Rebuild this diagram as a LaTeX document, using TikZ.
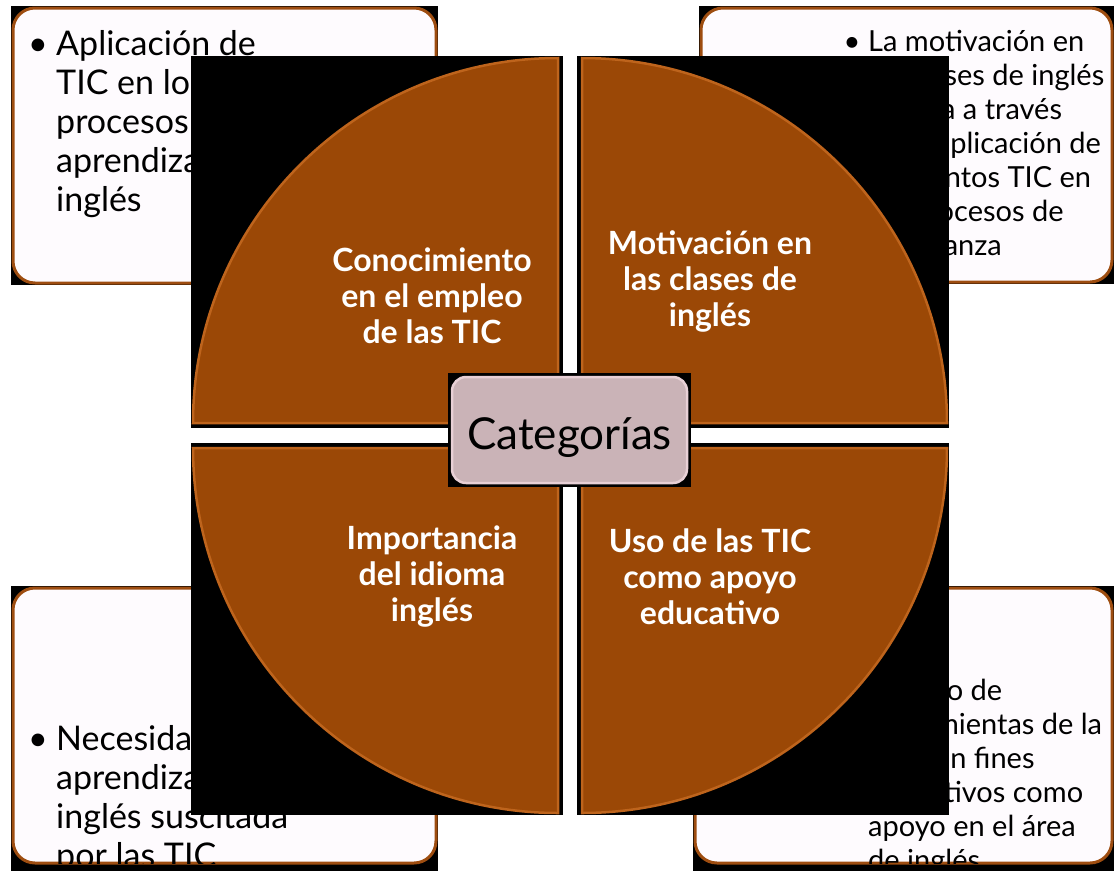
\documentclass[tikz,border=0pt]{standalone}
\usepackage{fontspec}
\setmainfont{Lato}

\definecolor{pie}{RGB}{155,72,6}
\definecolor{pierim}{RGB}{190,100,28}
\definecolor{boxline}{RGB}{158,77,16}
\definecolor{boxfill}{RGB}{254,251,254}
\definecolor{catfill}{RGB}{202,179,183}
\definecolor{catline}{RGB}{232,208,214}

\tikzset{
  notebox/.style={fill=boxfill, draw=boxline, line width=3pt, rounded corners=22pt},
  note/.style={anchor=north west, inner sep=0pt, align=left, text=black},
  bignote/.style={note, font=\fontsize{34}{39}\selectfont},
  smallnote/.style={note, font=\fontsize{29}{34}\selectfont},
  bigdot/.style={anchor=base, inner sep=0pt, font=\fontsize{34}{39}\selectfont},
  smalldot/.style={anchor=base, inner sep=0pt, font=\fontsize{29}{34}\selectfont},
  piece/.style={fill=pie, draw=pierim, line width=2.5pt},
  quadlabel/.style={text=white, align=center, inner sep=0pt, font=\bfseries\fontsize{32}{36}\selectfont},
  catbox/.style={fill=catfill, draw=catline, line width=2.5pt, rounded corners=14pt,
    minimum width=235pt, minimum height=106pt},
}

\begin{document}
\begin{tikzpicture}[x=1pt,y=-1pt]
  \useasboundingbox[fill=white] (0,0) rectangle (1114,871);

  % note boxes (behind the pie)
  \fill (11,6) rectangle (438,285);
  \draw[notebox] (13,8) rectangle (436,283);
  \begin{scope}
    \clip[rounded corners=22pt] (13,8) rectangle (436,283);
    \node[bigdot] (dot1) at (38,55) {\textbullet};
    \node[bignote] (note1) at (56,27.7) {\strut Aplicación de\\TIC en los\\procesos de\\aprendizaje del\\inglés};
  \end{scope}

  \fill (699,6) rectangle (1114,284);
  \draw[notebox] (701,8) rectangle (1112,282);
  \begin{scope}
    \clip[rounded corners=22pt] (701,8) rectangle (1112,282);
    \node[smalldot] (dot2) at (852,51) {\textbullet};
    \node[smallnote] (note2) at (868,27.2) {\strut La motivación en\\las clases de inglés\\mejora a través\\de la aplicación de\\elementos TIC en\\los procesos de\\enseñanza};
  \end{scope}

  \fill (11,586) rectangle (438,871);
  \draw[notebox] (13,588) rectangle (436,863);
  \begin{scope}
    \clip[rounded corners=22pt] (13,588) rectangle (436,863);
    \node[bigdot] (dot3) at (38,750) {\textbullet};
    \node[bignote] (note3) at (56,722.7) {\strut Necesidad de\\aprendizaje del\\inglés suscitada\\por las TIC};
  \end{scope}

  \fill (693,586) rectangle (1114,871);
  \draw[notebox] (695,588) rectangle (1112,863);
  \begin{scope}
    \clip[rounded corners=22pt] (695,588) rectangle (1112,863);
    \node[smalldot] (dot4) at (852,700) {\textbullet};
    \node[smallnote] (note4) at (868,676.2) {\strut Empleo de\\herramientas de la\\TIC con fines\\educativos como\\apoyo en el área\\de inglés};
  \end{scope}

  % the four quarters
  \foreach \sx/\sy/\cx/\cy/\a in {191/56/558/423/180, 577/56/582/423/270,
                                  191/443/558/448/90, 577/443/582/448/0}{
    \fill (\sx,\sy) rectangle ++(372,372);
    \draw[piece] (\cx,\cy) -- ++(\a:365) arc[start angle=\a, end angle=\a+90, radius=365] -- cycle;
  }

  \node[quadlabel] (q1) at (432,296) {Conocimiento\\en el empleo\\de las TIC};
  \node[quadlabel] (q2) at (710,281) {Motivación en\\las clases de\\inglés};
  \node[quadlabel] (q3) at (432,577) {Importancia\\del idioma\\inglés};
  \node[quadlabel] (q4) at (710,577) {Uso de las TIC\\como apoyo\\educativo};

  % centre
  \fill (448,373) rectangle (691,487);
  \node[catbox] (cat) at (569.5,430) {};
  \node[font=\fontsize{44}{50}\selectfont, inner sep=0pt] (catlabel) at ([yshift=-8pt]cat.center) {Categorías};
\end{tikzpicture}
\end{document}
